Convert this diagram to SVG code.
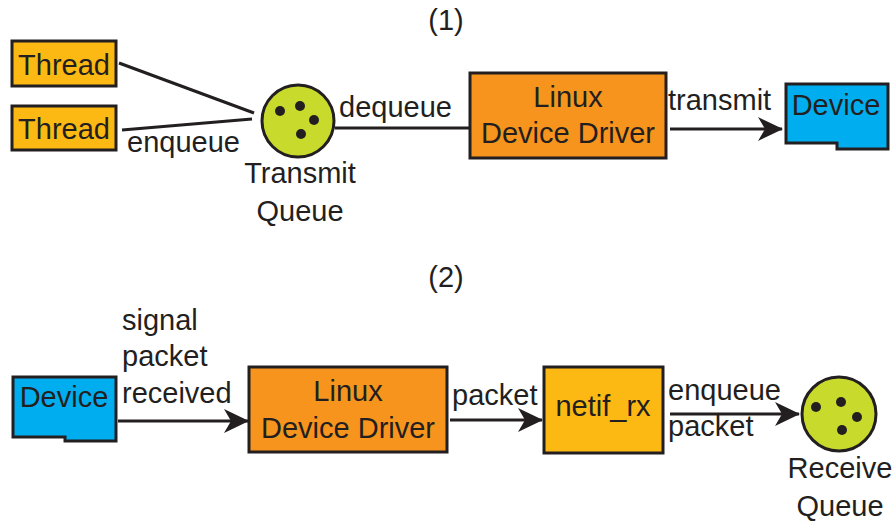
<svg xmlns="http://www.w3.org/2000/svg" width="894" height="521" viewBox="0 0 894 521">
  <style>
    text { font-family: "Liberation Sans", Arial, sans-serif; font-size: 29px; fill: #231f20; }
    .mid { text-anchor: middle; }
    .box { stroke: #231f20; stroke-width: 3; }
    .thread { fill: #fdb913; }
    .driver { fill: #f7941d; }
    .netif { fill: #fdb913; }
    .device { fill: #00aeef; }
    .queue { fill: #c8da2b; stroke: #231f20; stroke-width: 3; }
    .dot { fill: #231f20; }
    .wire { stroke: #231f20; stroke-width: 3; fill: none; }
  </style>
  <defs>
    <marker id="arrow" markerUnits="userSpaceOnUse" markerWidth="26" markerHeight="26" viewBox="0 0 26 26" refX="24" refY="13" orient="auto">
      <path d="M0,1 L25,13 L0,25 L7,13 Z" fill="#231f20"/>
    </marker>
  </defs>

  <!-- section titles -->
  <text class="mid" x="446" y="30">(1)</text>
  <text class="mid" x="446" y="287">(2)</text>

  <!-- transmit path -->
  <g id="thread1">
    <rect class="box thread" x="12" y="41" width="104" height="45"/>
    <text class="mid" x="64" y="75">Thread</text>
  </g>
  <g id="thread2">
    <rect class="box thread" x="12" y="106" width="104" height="44"/>
    <text class="mid" x="64" y="139">Thread</text>
  </g>
  <g id="transmit-queue">
    <circle class="queue" cx="298" cy="121" r="36"/>
    <circle class="dot" cx="280" cy="111" r="5"/>
    <circle class="dot" cx="300" cy="106" r="5"/>
    <circle class="dot" cx="314" cy="120" r="5"/>
    <circle class="dot" cx="301" cy="134" r="5"/>
    <text class="mid" x="300" y="183">Transmit</text>
    <text class="mid" x="300" y="221">Queue</text>
  </g>
  <g id="tx-driver">
    <rect class="box driver" x="470" y="73" width="196" height="85"/>
    <text class="mid" x="568" y="107">Linux</text>
    <text class="mid" x="568" y="143">Device Driver</text>
  </g>
  <g id="tx-device">
    <path class="box device" d="M786,84 H888 V149 H837 V143 H786 Z"/>
    <text class="mid" x="836" y="115">Device</text>
  </g>

  <!-- receive path -->
  <g id="rx-device">
    <path class="box device" d="M13,377 H116 V441 H65 V437 H13 Z"/>
    <text class="mid" x="64" y="407">Device</text>
  </g>
  <g id="rx-driver">
    <rect class="box driver" x="249" y="367" width="198" height="85"/>
    <text class="mid" x="348" y="401">Linux</text>
    <text class="mid" x="348" y="438">Device Driver</text>
  </g>
  <g id="netif-rx">
    <rect class="box netif" x="544" y="367" width="119" height="86"/>
    <text class="mid" x="603" y="416">netif_rx</text>
  </g>
  <g id="receive-queue">
    <circle class="queue" cx="839" cy="414" r="37"/>
    <circle class="dot" cx="816" cy="407" r="5"/>
    <circle class="dot" cx="841" cy="402" r="5"/>
    <circle class="dot" cx="857" cy="417" r="5"/>
    <circle class="dot" cx="842" cy="430" r="5"/>
    <text class="mid" x="840" y="478">Receive</text>
    <text class="mid" x="840" y="516">Queue</text>
  </g>

  <g id="connectors">
    <line class="wire" x1="119" y1="63" x2="254" y2="113"/>
    <line class="wire" x1="122" y1="130" x2="252" y2="119"/>
    <text x="127" y="152">enqueue</text>

    <line class="wire" x1="335" y1="128" x2="470" y2="128"/>
    <text x="339" y="117">dequeue</text>

    <line class="wire" x1="670" y1="129" x2="782" y2="129" marker-end="url(#arrow)"/>
    <text x="668" y="110">transmit</text>

    <line class="wire" x1="118" y1="421" x2="248" y2="421" marker-end="url(#arrow)"/>
    <text x="122" y="330">signal</text>
    <text x="122" y="366">packet</text>
    <text x="122" y="403">received</text>

    <line class="wire" x1="450" y1="420" x2="542" y2="420" marker-end="url(#arrow)"/>
    <text x="452" y="405">packet</text>

    <line class="wire" x1="670" y1="414" x2="799" y2="414" marker-end="url(#arrow)"/>
    <text x="668" y="400">enqueue</text>
    <text x="668" y="436">packet</text>
  </g>
</svg>
